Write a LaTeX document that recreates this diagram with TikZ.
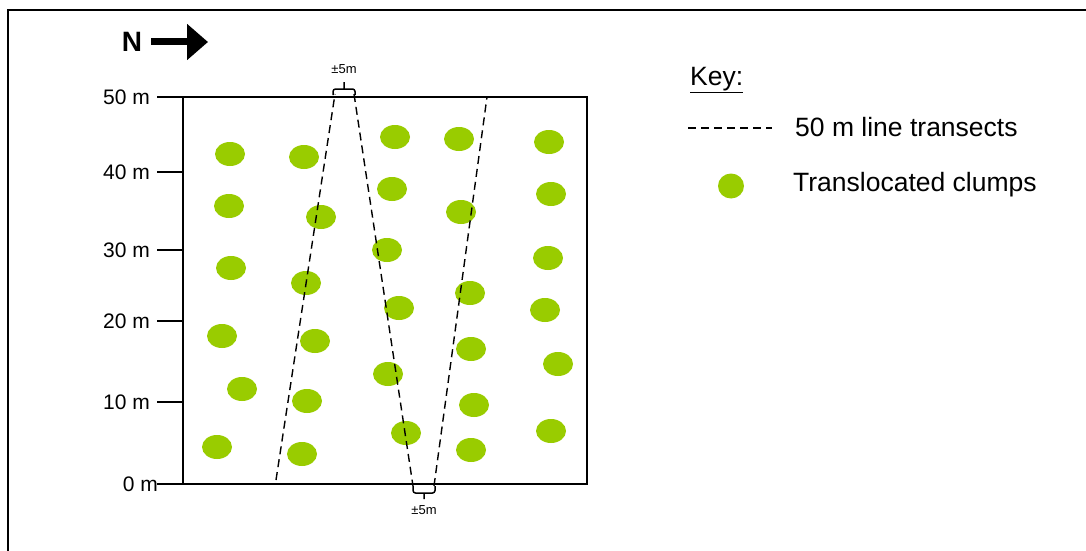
\documentclass[tikz,border=0pt]{standalone}
\usepackage{fontspec}
\setmainfont{Liberation Sans}
\usepackage{xcolor}
\usetikzlibrary{arrows.meta,shapes.geometric}
\definecolor{clump-green}{RGB}{153,204,0}
\tikzset{
    clump/.style = {ellipse, fill=clump-green, draw=none, inner sep=0pt, minimum width=30pt, minimum height=24pt},
    transect/.style = {dash pattern=on 8pt off 5pt, line width=1.4pt},
    bracket/.style = {line width=1.5pt, rounded corners=2.5pt},
    tick-label/.style = {anchor=east, inner sep=0pt, font=\fontsize{21}{25}\selectfont},
    gap-label/.style = {inner sep=0pt, font=\fontsize{13}{15}\selectfont},
    key-label/.style = {anchor=west, inner sep=0pt, font=\fontsize{26.5}{31}\selectfont},
}

\begin{document}
\begin{tikzpicture}[x=1pt, y=-1pt]
\useasboundingbox (0,0) rectangle (1086,551);
% outer frame
\draw[line width=2.5pt] (1086,10) -- (8,10) -- (8,551);

% north arrow
\node[inner sep=0pt, font=\bfseries\fontsize{28}{32}\selectfont] (north) at (132,42) {N};
\coordinate (north-tip) at (208,42);
\draw[line width=7pt, -{Triangle[length=21pt, width=35pt]}, shorten <=9pt] (north.east) -- (north-tip);

% plot area
\coordinate (plot-sw) at (183,484);
\coordinate (plot-ne) at (587,97);
\draw[line width=2pt] (plot-sw) rectangle (plot-ne);

% axis ticks
\foreach \y/\lx/\lab in {484/158/0 m, 402/150/10 m, 321/150/20 m, 250/150/30 m, 172/150/40 m, 97/150/50 m} {
    \coordinate (tick-\y) at (183,\y);
    \node[tick-label] (lab-\y) at (\lx,\y) {\lab};
    \draw[line width=1.5pt] (157,\y) -- (tick-\y);
}

% clumps
\foreach \x/\y [count=\i] in {230/154, 229/206, 231/268, 222/336, 242/389, 217/447,
                               304/157, 321/217, 306/283, 315/341, 307/401, 302/454,
                               395/137, 392/189, 387/250, 399/308, 388/374, 406/433,
                               459/139, 461/212, 470/293, 471/349, 474/405, 471/450,
                               549/142, 551/194, 548/258, 545/310, 558/364, 551/431} {
    \node[clump] (clump-\i) at (\x,\y) {};
}

% transects
\coordinate (t1-bot) at (276,480);
\coordinate (t1-top) at (335,94);
\coordinate (t2-top) at (354,94);
\coordinate (t2-bot) at (413,486);
\coordinate (t3-bot) at (434,486);
\coordinate (t3-top) at (487,97);
\draw[transect] (t1-bot) -- (t1-top);
\draw[transect] (t2-top) -- (t2-bot);
\draw[transect] (t3-bot) -- (t3-top);

% gap brackets
\draw[bracket] (333,95) -- (333,89) -- (355,89) -- (355,95) (344,89) -- (344,82);
\node[gap-label] (gap-top) at (344,69) {±5m};
\draw[bracket] (413,486) -- (413,493) -- (435,493) -- (435,486) (424,493) -- (424,499);
\node[gap-label] (gap-bot) at (424,510) {±5m};

% key
\node[key-label] (key-title) at (690,80) {\underline{Key:}};
\coordinate (key-dash-a) at (688,128);
\coordinate (key-dash-b) at (772,128);
\draw[transect] (key-dash-a) -- (key-dash-b);
\node[key-label] (key-transects) at (795,127) {50 m line transects};
\node[clump, minimum width=26pt, minimum height=25pt] (key-clump) at (731,186) {};
\node[key-label] (key-clumps) at (793,185) {Translocated clumps};
\end{tikzpicture}
\end{document}
